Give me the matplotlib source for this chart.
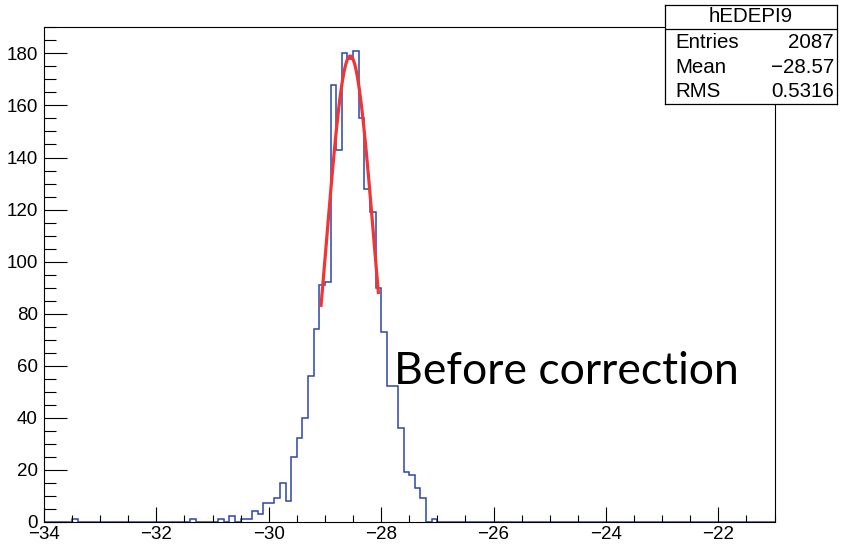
import numpy as np
import matplotlib
matplotlib.use("Agg")
import matplotlib.pyplot as plt
from matplotlib.ticker import MultipleLocator

# histogram binning (130 bins of 0.1 between -34 and -21)
x_lo, x_hi, n_bins = -34.0, -21.0, 130

# bin centres with non-zero content and their counts
bin_centers = [-33.45, -31.35, -30.85, -30.65, -30.45, -30.35, -30.25, -30.15,
               -30.05, -29.95, -29.85, -29.75, -29.65, -29.55, -29.45, -29.35,
               -29.25, -29.15, -29.05, -28.95, -28.85, -28.75, -28.65, -28.55,
               -28.45, -28.35, -28.25, -28.15, -28.05, -27.95, -27.85, -27.75,
               -27.65, -27.55, -27.45, -27.35, -27.25, -27.05]
bin_counts = [1, 1, 1, 2, 1, 1, 4, 3,
              7, 7, 9, 15, 8, 25, 32, 40,
              56, 74, 91, 92, 168, 143, 180, 178,
              181, 155, 128, 119, 90, 73, 52, 52,
              36, 19, 18, 13, 9, 1]

# gaussian fit parameters and fit range
fit_const, fit_mean, fit_sigma = 179.0, -28.55, 0.42
fit_range = (-29.07, -28.05)

stats_title = "hEDEPI9"
stats_names = ["Entries", "Mean", "RMS"]
stats_values = ["2087", "\u221228.57", "0.5316"]

edges = np.linspace(x_lo, x_hi, n_bins + 1)
counts = np.zeros(n_bins)
for c, n in zip(bin_centers, bin_counts):
    counts[int(round((c - x_lo) / 0.1 - 0.5))] = n

plt.rcParams['font.family'] = ['Liberation Sans', 'DejaVu Sans']

W, H = 844, 547
fig = plt.figure(figsize=(W / 100, H / 100), dpi=100)
ax = fig.add_axes([44 / W, 1 - 521.7 / H, (774.5 - 44) / W, (521.7 - 27.3) / H])

ax.stairs(counts, edges, color='#2a47ad', lw=1.1)

xf = np.linspace(fit_range[0], fit_range[1], 100)
yf = fit_const * np.exp(-0.5 * ((xf - fit_mean) / fit_sigma) ** 2)
ax.plot(xf, yf, color='#f03535', lw=2.3, zorder=3)

ax.set_xlim(x_lo, x_hi)
ax.set_ylim(0, 1.05 * max(bin_counts))
ax.xaxis.set_major_locator(MultipleLocator(2))
ax.xaxis.set_minor_locator(MultipleLocator(0.5))
ax.yaxis.set_major_locator(MultipleLocator(20))
ax.yaxis.set_minor_locator(MultipleLocator(5))
ax.tick_params(axis='x', which='major', direction='in', length=10.7, width=0.8,
               labelsize=13.5, pad=3)
ax.tick_params(axis='x', which='minor', direction='in', length=5.3, width=0.8)
ax.tick_params(axis='y', which='major', direction='in', length=16.4, width=0.8,
               labelsize=13.5, pad=4.5)
ax.tick_params(axis='y', which='minor', direction='in', length=8.5, width=0.8)
for s in ax.spines.values():
    s.set_linewidth(0.8)

ax.text(-27.78, 52.8, "Before correction", fontsize=32, family='Lato',
        ha='left', va='baseline')

# stats box
sx0, sx1, sy0, sy1 = 665, 837, 5, 104
sb = fig.add_axes([sx0 / W, 1 - sy1 / H, (sx1 - sx0) / W, (sy1 - sy0) / H])
sb.set_xticks([])
sb.set_yticks([])
sb.set_xlim(sx0, sx1)
sb.set_ylim(sy1, sy0)
for s in sb.spines.values():
    s.set_linewidth(0.9)
sb.axhline(29, color='black', lw=0.9)
sb.text(751, 17, stats_title, ha='center', va='center', fontsize=14.8)
for i, (nm, val) in enumerate(zip(stats_names, stats_values)):
    yy = 43 + 24.5 * i
    sb.text(675, yy, nm, ha='left', va='center', fontsize=14.8)
    sb.text(834, yy, val, ha='right', va='center', fontsize=14.8)

fig.savefig("out.png", dpi=100)
